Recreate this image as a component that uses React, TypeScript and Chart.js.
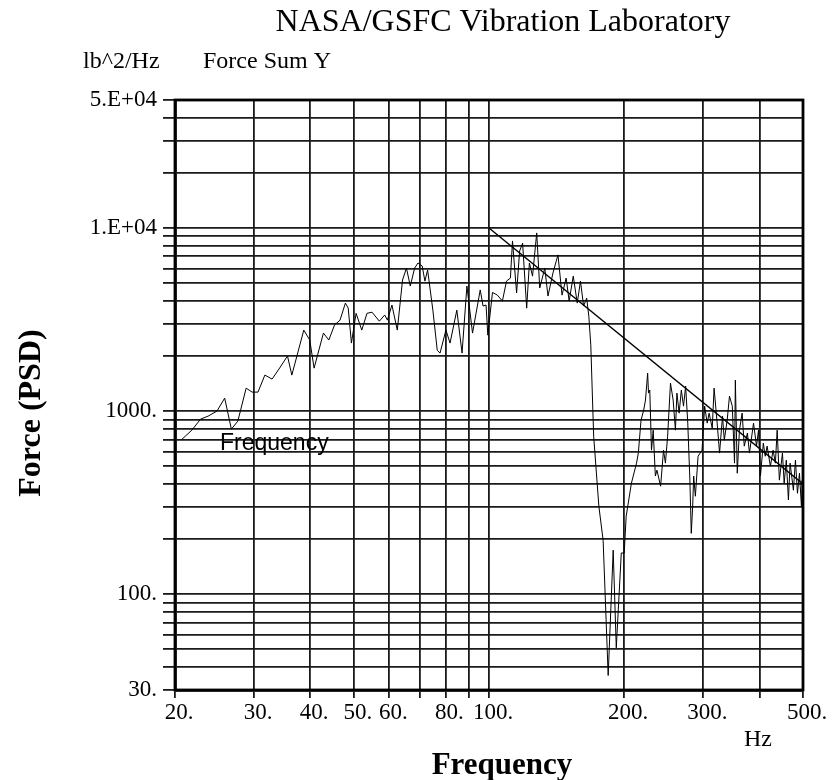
import React, { useEffect, useRef } from 'react';
import { Chart, registerables } from 'chart.js';

Chart.register(...registerables);

const freqHz = [
  20.7, 21.8, 22.8, 23.7, 24.8, 25.8, 26.7, 27.6, 28.8, 29.7, 30.6, 31.7, 32.9, 34.2, 35.6, 36.4, 38.7, 39.9, 40.8, 42.8,
  44.0, 45.3, 46.6, 47.9, 48.6, 49.4, 50.6, 52.1, 53.5, 54.9, 57.0, 58.6, 59.4, 60.8, 62.5, 64.2, 65.5, 66.8, 68.3, 69.5,
  71.0, 72.0, 73.0, 75.0, 76.7, 77.8, 80.2, 81.9, 84.8, 87.1, 89.3, 91.9, 95.6, 97.0, 98.5, 99.4, 101.8, 104.4, 107.1, 109.4,
  111.6, 112.8, 115.2, 117.0, 118.8, 121.3, 123.0, 125.0, 127.7, 129.7, 133.1, 135.3, 138.8, 142.4, 145.4, 148.5, 150.8, 154.0, 157.2, 159.8,
  162.4, 165.0, 166.8, 168.5, 171.0, 175.6, 179.5, 184.2, 189.0, 192.0, 197.0, 200.0, 202.0, 207.5, 213.0, 215.0, 218.0, 221.0, 223.0, 225.5,
  226.5, 228.0, 230.0, 232.0, 234.6, 236.5, 241.0, 244.6, 247.0, 249.8, 253.5, 257.0, 260.0, 262.0, 265.0, 268.0, 271.0, 274.0, 277.0, 280.0,
  282.0, 284.0, 285.5, 288.0, 292.0, 298.0, 302.0, 306.0, 309.0, 314.0, 317.0, 322.0, 326.0, 331.0, 334.0, 339.0, 343.0, 348.0, 352.0, 353.5,
  357.0, 361.0, 366.0, 370.0, 376.0, 380.0, 388.0, 394.0, 398.0, 402.0, 408.0, 412.0, 416.0, 423.0, 429.0, 434.0, 438.0, 443.0, 450.0, 454.0,
  459.0, 464.0, 468.0, 476.0, 481.0, 486.0, 491.0, 496.0, 498.0, 500.0,
];

const forcePsd = [
  700, 787, 904, 939, 1000, 1178, 797, 882, 1335, 1270, 1270, 1573, 1496, 1720, 2000, 1573, 2770, 2445, 1717, 2668,
  2445, 2950, 3140, 3890, 3650, 2353, 3420, 2770, 3420, 3470, 3100, 3350, 3140, 3795, 2770, 5200, 6040, 4820, 6040, 6440,
  6200, 5130, 5900, 3560, 2150, 2075, 2770, 2353, 3560, 2075, 4820, 2668, 4590, 3750, 3795, 2600, 4450, 4300, 3990, 5130,
  5330, 8500, 4420, 7490, 8260, 3650, 6440, 5460, 9400, 4700, 6040, 4250, 5680, 7130, 4300, 5330, 3990, 5460, 3890, 5130,
  3750, 4140, 3300, 2300, 730, 303, 197, 36, 174, 51, 168, 168, 267, 404, 520, 590, 893, 1013, 1150, 1612,
  1254, 1303, 612, 787, 442, 476, 389, 612, 520, 730, 1422, 1150, 787, 1254, 975, 1303, 1065, 1370, 860, 420,
  215, 300, 442, 343, 567, 612, 1065, 860, 975, 808, 1335, 860, 590, 939, 694, 893, 1207, 1065, 520, 1476,
  458, 787, 975, 644, 758, 590, 860, 644, 787, 442, 669, 567, 644, 500, 612, 520, 787, 420, 590, 404,
  540, 327, 520, 370, 540, 356, 458, 302, 420, 300,
];

const refFreq = [100, 500];
const refPsd = [10000, 400];

const xTicks = [20, 30, 40, 50, 60, 70, 80, 90, 100, 200, 300, 400, 500];
const xTickText = ['20.', '30.', '40.', '50.', '60.', '', '80.', '', '100.', '200.', '300.', '', '500.'];

const yTicks = [
  30, 40, 50, 60, 70, 80, 90, 100, 200, 300, 400, 500, 600, 700, 800, 900, 1000, 2000, 3000, 4000, 5000, 6000, 7000, 8000,
  9000, 10000, 20000, 30000, 40000, 50000,
];
const yTickText = [
  '30.', '', '', '', '', '', '', '100.', '', '', '', '', '', '', '', '', '1000.', '', '', '', '', '', '', '', '', '1.E+04', '',
  '', '', '5.E+04',
];

const titleText = 'NASA/GSFC Vibration Laboratory';
const unitText = 'lb^2/Hz';
const channelText = 'Force Sum Y';
const xTitle = 'Frequency';
const yTitle = 'Force (PSD)';
const hzText = 'Hz';
const seriesLabel = 'Frequency';

const SERIF = '"Liberation Serif", "Times New Roman", serif';
const SANS = '"Liberation Sans", Arial, sans-serif';

const decorPlugin = {
  id: 'decor',
  beforeDraw(chart: any) {
    const ctx = chart.ctx;
    ctx.save();
    ctx.fillStyle = '#fff';
    ctx.fillRect(0, 0, chart.width, chart.height);
    ctx.restore();
  },
  afterDraw(chart: any) {
    const ctx = chart.ctx;
    const a = chart.chartArea;
    ctx.save();
    ctx.strokeStyle = '#000';
    ctx.lineWidth = 2.8;
    ctx.strokeRect(a.left, a.top, a.right - a.left, a.bottom - a.top);

    ctx.fillStyle = '#000';
    ctx.textBaseline = 'alphabetic';
    ctx.textAlign = 'center';
    ctx.font = `32px ${SERIF}`;
    ctx.fillText(titleText, 503, 31);

    ctx.textAlign = 'left';
    ctx.font = `24px ${SERIF}`;
    ctx.fillText(unitText, 83, 68);
    ctx.fillText(channelText, 203, 68);
    ctx.fillText(hzText, 744, 746);

    ctx.textAlign = 'center';
    ctx.font = `bold 31px ${SERIF}`;
    ctx.fillText(xTitle, 502, 774);

    ctx.save();
    ctx.translate(40, 413);
    ctx.rotate(-Math.PI / 2);
    ctx.font = `bold 32px ${SERIF}`;
    ctx.fillText(yTitle, 0, 0);
    ctx.restore();

    ctx.textAlign = 'left';
    ctx.font = `23px ${SANS}`;
    ctx.fillText(seriesLabel, 220, 450);
    ctx.restore();
  },
};

export default function App() {
  const canvasRef = useRef<HTMLCanvasElement | null>(null);

  useEffect(() => {
    const canvas = canvasRef.current;
    if (!canvas) return;
    const seriesData = freqHz.map((f, i) => ({ x: f, y: forcePsd[i] }));
    const refData = refFreq.map((f, i) => ({ x: f, y: refPsd[i] }));

    const chart = new Chart(canvas, {
      type: 'line',
      data: {
        datasets: [
          {
            label: seriesLabel,
            data: seriesData,
            borderColor: '#000',
            borderWidth: 1,
            pointRadius: 0,
            tension: 0,
            fill: false,
          },
          {
            label: 'Reference',
            data: refData,
            borderColor: '#000',
            borderWidth: 1.4,
            pointRadius: 0,
            tension: 0,
            fill: false,
          },
        ],
      },
      plugins: [decorPlugin],
      options: {
        responsive: false,
        animation: false,
        events: [],
        layout: { padding: { top: 100, right: 30, left: 0, bottom: 0 } },
        plugins: {
          legend: { display: false },
          tooltip: { enabled: false },
          title: { display: false },
        },
        scales: {
          x: {
            type: 'logarithmic',
            min: 20,
            max: 500,
            afterBuildTicks: (s: any) => {
              s.ticks = xTicks.map((v) => ({ value: v }));
            },
            afterFit: (s: any) => {
              s.height = 90;
            },
            ticks: {
              autoSkip: false,
              maxRotation: 0,
              minRotation: 0,
              padding: 1,
              labelOffset: 4,
              color: '#000',
              font: { family: SERIF, size: 23 },
              callback: (v: any) => {
                const i = xTicks.indexOf(Number(v));
                return i >= 0 ? xTickText[i] : '';
              },
            },
            grid: { color: '#1a1a1a', lineWidth: 1.8, tickLength: 8, drawTicks: true },
            border: { display: true, color: '#000', width: 2.8 },
          },
          y: {
            type: 'logarithmic',
            min: 30,
            max: 50000,
            afterBuildTicks: (s: any) => {
              s.ticks = yTicks.map((v) => ({ value: v }));
            },
            afterFit: (s: any) => {
              s.width = 175;
            },
            ticks: {
              autoSkip: false,
              padding: 6,
              color: '#000',
              font: { family: SERIF, size: 23 },
              callback: (v: any) => {
                const i = yTicks.indexOf(Number(v));
                return i >= 0 ? yTickText[i] : '';
              },
            },
            grid: { color: '#1a1a1a', lineWidth: 1.8, tickLength: 12, drawTicks: true },
            border: { display: true, color: '#000', width: 2.8 },
          },
        },
      },
    } as any);

    return () => chart.destroy();
  }, []);

  return (
    <div style={{ position: 'absolute', left: 0, top: 0, width: 833, height: 780, background: '#fff' }}>
      <canvas ref={canvasRef} width={833} height={780} style={{ display: 'block' }} />
    </div>
  );
}
